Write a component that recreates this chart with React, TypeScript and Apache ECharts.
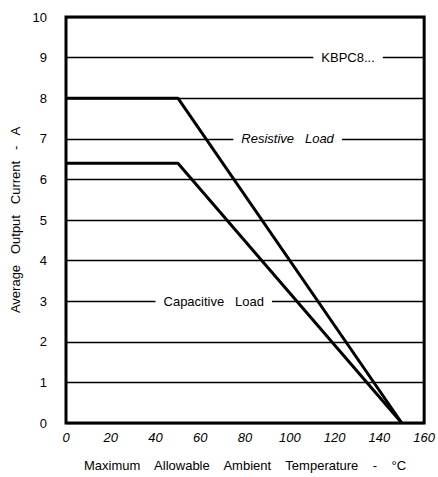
import React, { useEffect, useRef } from "react";
import * as echarts from "echarts";

const xTicks = [0, 20, 40, 60, 80, 100, 120, 140, 160];
const resistiveTemp = [0, 50, 150];
const resistiveCurrent = [8, 8, 0];
const capacitiveTemp = [0, 50, 150];
const capacitiveCurrent = [6.4, 6.4, 0];
const annotations = [
  { name: "KBPC8...", x: 126, y: 9, italic: false },
  { name: "Resistive   Load", x: 99, y: 7, italic: true },
  { name: "Capacitive   Load", x: 66, y: 3, italic: false },
];

export default function App() {
  const ref = useRef<HTMLDivElement>(null);
  useEffect(() => {
    if (!ref.current) return;
    const chart = echarts.init(ref.current, null, { renderer: "svg" });
    const font = "'Liberation Sans', Arial, sans-serif";
    chart.setOption({
      animation: false,
      backgroundColor: "#fff",
      textStyle: { fontFamily: font },
      grid: {
        left: 66,
        right: 2,
        top: 17,
        bottom: 52,
        show: true,
        borderColor: "#000",
        borderWidth: 3,
        containLabel: false,
      },
      xAxis: {
        type: "value",
        min: xTicks[0],
        max: xTicks[xTicks.length - 1],
        interval: 20,
        axisLine: { show: false },
        axisTick: { show: false },
        splitLine: { show: false },
        axisLabel: {
          color: "#000",
          fontSize: 13,
          fontStyle: "italic",
          margin: 8,
          showMaxLabel: true,
          fontFamily: font,
        },
        name: "Maximum    Allowable    Ambient    Temperature    -    °C",
        nameLocation: "middle",
        nameGap: 36,
        nameTextStyle: { color: "#000", fontSize: 13, fontFamily: font },
      },
      yAxis: {
        type: "value",
        min: 0,
        max: 10,
        interval: 1,
        axisLine: { show: false },
        axisTick: { show: false },
        splitLine: { show: true, lineStyle: { color: "#000", width: 1.3 } },
        axisLabel: { color: "#000", fontSize: 13, margin: 19, fontFamily: font },
        name: "Average   Output   Current   -   A",
        nameLocation: "middle",
        nameRotate: 90,
        nameGap: 40,
        nameTextStyle: { color: "#000", fontSize: 13, fontFamily: font },
      },
      series: [
        {
          name: "Resistive Load",
          type: "line",
          symbol: "none",
          lineStyle: { color: "#000", width: 3 },
          data: resistiveTemp.map((t, i) => [t, resistiveCurrent[i]]),
          z: 5,
          markPoint: {
            symbol: "rect",
            symbolSize: 0,
            silent: true,
            data: annotations.map((a) => ({
              name: a.name,
              coord: [a.x, a.y],
              label: {
                show: true,
                position: "inside",
                formatter: a.name,
                color: "#000",
                fontSize: 13,
                fontStyle: a.italic ? "italic" : "normal",
                fontFamily: font,
                backgroundColor: "#fff",
                padding: [3, 8],
              },
            })),
          },
        },
        {
          name: "Capacitive Load",
          type: "line",
          symbol: "none",
          lineStyle: { color: "#000", width: 3 },
          data: capacitiveTemp.map((t, i) => [t, capacitiveCurrent[i]]),
          z: 5,
        },
      ],
    });
    return () => chart.dispose();
  }, []);
  return (
    <div
      ref={ref}
      style={{ position: "fixed", left: 0, top: 0, width: 438, height: 477 }}
    />
  );
}
